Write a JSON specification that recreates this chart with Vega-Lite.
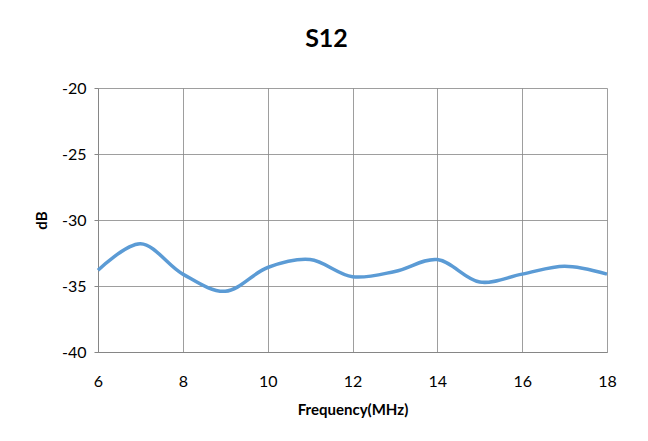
{
  "$schema": "https://vega.github.io/schema/vega-lite/v6.json",
  "autosize": "none",
  "width": 509,
  "height": 264,
  "padding": {"left": 98, "top": 88, "right": 41, "bottom": 89},
  "background": "white",
  "config": {
    "font": "Lato",
    "view": {"stroke": null}
  },
  "title": {
    "text": "S12",
    "fontSize": 25,
    "fontWeight": "bold",
    "font": "Lato",
    "color": "#000000",
    "anchor": "middle",
    "dx": -26,
    "offset": 28
  },
  "data": {
    "values": [
      {"f": 6, "dB": -33.8},
      {"f": 7, "dB": -31.8},
      {"f": 8, "dB": -34.1},
      {"f": 9, "dB": -35.4},
      {"f": 10, "dB": -33.6},
      {"f": 11, "dB": -33.0},
      {"f": 12, "dB": -34.3},
      {"f": 13, "dB": -33.9},
      {"f": 14, "dB": -33.0},
      {"f": 15, "dB": -34.7},
      {"f": 16, "dB": -34.1},
      {"f": 17, "dB": -33.5},
      {"f": 18, "dB": -34.1}
    ]
  },
  "mark": {"type": "line", "interpolate": "catmull-rom", "color": "#5B9BD5", "strokeWidth": 3.5},
  "encoding": {
    "x": {
      "field": "f",
      "type": "quantitative",
      "scale": {"domain": [6, 18], "nice": false, "zero": false},
      "axis": {
        "values": [6, 8, 10, 12, 14, 16, 18],
        "title": "Frequency(MHz)",
        "titleFontSize": 15,
        "titleFontWeight": "bold",
        "titleColor": "#000000",
        "titlePadding": 13,
        "labelFontSize": 16,
        "labelColor": "#000000",
        "labelPadding": 21,
        "ticks": false,
        "domainColor": "#868686",
        "gridColor": "#868686",
        "gridOpacity": 0.8,
        "labelFlush": false
      }
    },
    "y": {
      "field": "dB",
      "type": "quantitative",
      "scale": {"domain": [-40, -20], "nice": false, "zero": false},
      "axis": {
        "values": [-40, -35, -30, -25, -20],
        "labelExpr": "'' + datum.value",
        "title": "dB",
        "titleFontSize": 15,
        "titleFontWeight": "bold",
        "titleColor": "#000000",
        "titlePadding": 12,
        "labelFontSize": 16,
        "labelColor": "#000000",
        "labelPadding": 8,
        "tickSize": 4,
        "tickColor": "#868686",
        "domainColor": "#868686",
        "gridColor": "#868686",
        "gridOpacity": 0.8,
        "labelFlush": false
      }
    }
  }
}
